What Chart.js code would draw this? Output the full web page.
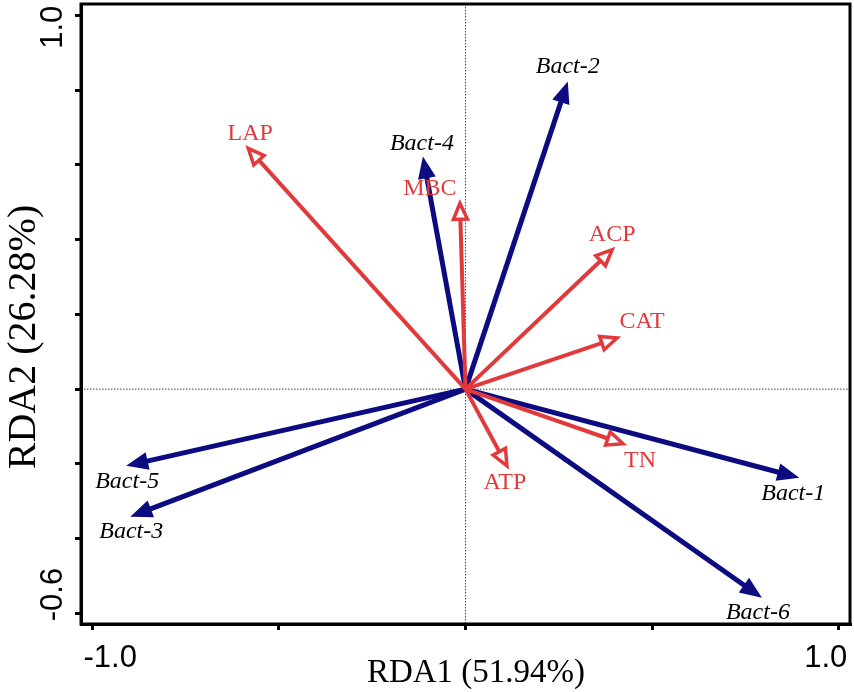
<!DOCTYPE html>
<html lang="en">
<head>
    <meta charset="UTF-8">
    <title>RDA biplot</title>
    <script src="https://cdn.jsdelivr.net/npm/chart.js"></script>
    <style>
        html, body { margin: 0; padding: 0; background: #fff; }
        #wrap { width: 854px; height: 692px; position: relative; }
    </style>
</head>
<body>
    <div id="wrap"><canvas id="rda"></canvas></div>
    <script>
        // species (bacteria) arrows
        const bactNames = ['Bact-1', 'Bact-2', 'Bact-3', 'Bact-4', 'Bact-5', 'Bact-6'];
        const bactRDA1 = [0.894, 0.274, -0.898, -0.114, -0.909, 0.794];
        const bactRDA2 = [-0.237, 0.823, -0.341, 0.622, -0.205, -0.558];

        // environmental variables
        const envNames = ['LAP', 'MBC', 'ACP', 'CAT', 'TN', 'ATP'];
        const envRDA1 = [-0.582, -0.015, 0.393, 0.406, 0.422, 0.111];
        const envRDA2 = [0.644, 0.497, 0.373, 0.137, -0.146, -0.205];

        const xTickLabels = ['-1.0', '1.0'];
        const xTickValues = [-1.0, 1.0];
        const yTickLabels = ['1.0', '-0.6'];
        const yTickValues = [1.0, -0.6];

        const BLUE = '#0c0c80';
        const RED = '#e03a3d';

        // arrow head size: [length, half width]
        const headSize = { bact: [22, 9], env: [16, 7] };

        // label placement relative to arrow tip (px)
        const labelShift = {
            'Bact-1': [-6, 16], 'Bact-2': [0, -15], 'Bact-3': [1, 15],
            'Bact-4': [-1, -13], 'Bact-5': [1, 16], 'Bact-6': [-4, 15],
            'LAP': [2, -15], 'MBC': [-30, -15], 'ACP': [0, -15],
            'CAT': [25, -16], 'TN': [17, 17], 'ATP': [-2, 17]
        };

        const datasets = [];
        envNames.forEach((n, i) => {
            datasets.push({
                label: n, kind: 'env',
                data: [{x: 0, y: 0}, {x: envRDA1[i], y: envRDA2[i]}],
                borderColor: RED, borderWidth: 4, showLine: true,
                pointRadius: 0, pointHoverRadius: 0
            });
        });
        bactNames.forEach((n, i) => {
            datasets.push({
                label: n, kind: 'bact',
                data: [{x: 0, y: 0}, {x: bactRDA1[i], y: bactRDA2[i]}],
                borderColor: BLUE, borderWidth: 5, showLine: true,
                pointRadius: 0, pointHoverRadius: 0
            });
        });

        function arrowGeom(chart, ds) {
            const {x, y} = chart.scales;
            const x0 = x.getPixelForValue(0), y0 = y.getPixelForValue(0);
            const p = ds.data[1];
            const tx = x.getPixelForValue(p.x), ty = y.getPixelForValue(p.y);
            const ang = Math.atan2(ty - y0, tx - x0);
            return {tx, ty, c: Math.cos(ang), s: Math.sin(ang)};
        }

        const rdaPlugin = {
            id: 'rdaPlugin',
            beforeDatasetsDraw(chart) {
                const {ctx, chartArea: a, scales: {x, y}} = chart;
                const x0 = x.getPixelForValue(0), y0 = y.getPixelForValue(0);
                ctx.save();
                ctx.strokeStyle = '#444';
                ctx.lineWidth = 1;
                ctx.setLineDash([1.5, 1.5]);
                ctx.beginPath();
                ctx.moveTo(x0, a.top); ctx.lineTo(x0, a.bottom);
                ctx.moveTo(a.left, y0); ctx.lineTo(a.right, y0);
                ctx.stroke();
                ctx.restore();
            },
            // stop each shaft at the base of its head
            beforeDatasetDraw(chart, args) {
                const ds = chart.data.datasets[args.index];
                const g = arrowGeom(chart, ds);
                const cut = headSize[ds.kind][0] - 3;
                const bx = g.tx - g.c * cut, by = g.ty - g.s * cut;
                const R = 3000;
                const ctx = chart.ctx;
                ctx.save();
                ctx.beginPath();
                ctx.moveTo(bx - g.s * R, by + g.c * R);
                ctx.lineTo(bx + g.s * R, by - g.c * R);
                ctx.lineTo(bx + g.s * R - g.c * R, by - g.c * R - g.s * R);
                ctx.lineTo(bx - g.s * R - g.c * R, by + g.c * R - g.s * R);
                ctx.closePath();
                ctx.clip();
            },
            afterDatasetDraw(chart) {
                chart.ctx.restore();
            },
            afterDatasetsDraw(chart) {
                const ctx = chart.ctx;
                ctx.save();
                chart.data.datasets.forEach(ds => {
                    const {tx, ty, c, s} = arrowGeom(chart, ds);
                    const [len, hw] = headSize[ds.kind];
                    const bx = tx - c * len, by = ty - s * len;
                    ctx.beginPath();
                    ctx.moveTo(tx, ty);
                    ctx.lineTo(bx - s * hw, by + c * hw);
                    ctx.lineTo(bx + s * hw, by - c * hw);
                    ctx.closePath();
                    if (ds.kind === 'bact') {
                        ctx.fillStyle = BLUE;
                        ctx.fill();
                    } else {
                        ctx.fillStyle = '#fff';
                        ctx.fill();
                        ctx.strokeStyle = RED;
                        ctx.lineWidth = 3.5;
                        ctx.lineJoin = 'miter';
                        ctx.stroke();
                    }
                    // label
                    const sh = labelShift[ds.label] || [0, 0];
                    ctx.textAlign = 'center';
                    ctx.textBaseline = 'middle';
                    if (ds.kind === 'bact') {
                        ctx.font = 'italic 24px "Liberation Serif", "Times New Roman", serif';
                        ctx.fillStyle = '#000';
                    } else {
                        ctx.font = '24px "Liberation Serif", "Times New Roman", serif';
                        ctx.fillStyle = RED;
                    }
                    ctx.fillText(ds.label, tx + sh[0], ty + sh[1]);
                });
                ctx.restore();
            },
            afterDraw(chart) {
                const {ctx, chartArea: a, scales: {x, y}} = chart;
                ctx.save();
                // frame
                ctx.strokeStyle = '#000';
                ctx.lineWidth = 3;
                ctx.strokeRect(a.left, a.top, a.right - a.left, a.bottom - a.top);

                // tick labels
                ctx.fillStyle = '#000';
                ctx.font = '31px "Liberation Sans", Arial, sans-serif';
                ctx.textBaseline = 'alphabetic';
                ctx.textAlign = 'center';
                const xShift = [18, -13];
                xTickValues.forEach((v, i) => {
                    ctx.fillText(xTickLabels[i], x.getPixelForValue(v) + xShift[i], 667);
                });
                const yShift = [12, -19];
                yTickValues.forEach((v, i) => {
                    ctx.save();
                    ctx.translate(62, y.getPixelForValue(v) + yShift[i]);
                    ctx.rotate(-Math.PI / 2);
                    ctx.fillText(yTickLabels[i], 0, 0);
                    ctx.restore();
                });

                // axis titles
                ctx.font = '33px "Liberation Serif", "Times New Roman", serif';
                ctx.fillText('RDA1 (51.94%)', 476, 682);
                ctx.save();
                ctx.translate(35, 337);
                ctx.rotate(-Math.PI / 2);
                ctx.font = '40px "Liberation Serif", "Times New Roman", serif';
                ctx.fillText('RDA2 (26.28%)', 0, 0);
                ctx.restore();
                ctx.restore();
            }
        };

        const axisGrid = {
            display: true, drawOnChartArea: false, drawTicks: true,
            tickLength: 6, lineWidth: 3, color: '#000', tickColor: '#000'
        };

        new Chart(document.getElementById('rda'), {
            type: 'scatter',
            data: { datasets: datasets },
            options: {
                responsive: true,
                maintainAspectRatio: false,
                animation: false,
                devicePixelRatio: 1,
                layout: { padding: { left: 75, right: 4, top: 4, bottom: 62 } },
                plugins: { legend: { display: false }, tooltip: { enabled: false } },
                scales: {
                    x: {
                        type: 'linear', min: -1.03, max: 1.03,
                        ticks: { display: false, stepSize: 0.5, includeBounds: false },
                        grid: axisGrid,
                        border: { display: true, color: '#000', width: 3 }
                    },
                    y: {
                        type: 'linear', min: -0.628, max: 1.03,
                        ticks: { display: false, stepSize: 0.2, includeBounds: false },
                        grid: axisGrid,
                        border: { display: true, color: '#000', width: 3 }
                    }
                }
            },
            plugins: [rdaPlugin]
        });
    </script>
</body>
</html>
